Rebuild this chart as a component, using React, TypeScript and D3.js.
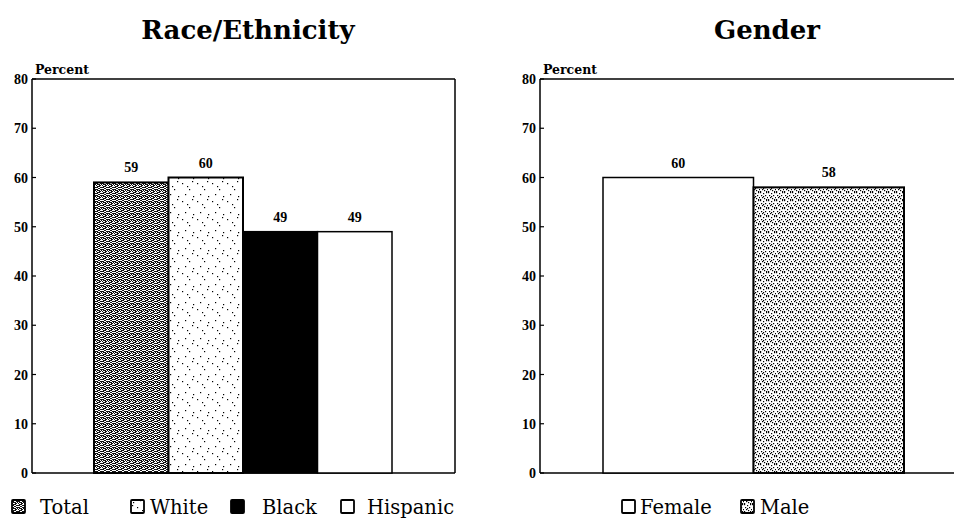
import React from "react";
import * as d3 from "d3";

const raceCategories = ["Total", "White", "Black", "Hispanic"];
const raceValues = [59, 60, 49, 49];
const genderCategories = ["Female", "Male"];
const genderValues = [60, 58];
const yTicks = [0, 10, 20, 30, 40, 50, 60, 70, 80];
const titles = ["Race/Ethnicity", "Gender"];
const axisLabel = "Percent";

const raceFills = ["url(#patTotal)", "url(#patWhite)", "#000", "#fff"];
const raceStrokes = [2, 2, 1.5, 1.5];
const genderFills = ["#fff", "url(#patMale)"];
const genderStrokes = [1.5, 2];

const W = 954;
const H = 525;
const serif = "'Liberation Serif', 'Times New Roman', serif";
const wide = "'DejaVu Serif', serif";

function Panel({
  cats, vals, fills, strokes, axisX, frameRight, barRange, title, titleX, showRight,
}: any) {
  const y = d3.scaleLinear().domain([0, 80]).range([473, 79]);
  const x = d3.scaleBand().domain(cats).range(barRange).padding(0);
  return (
    <g>
      <text x={titleX} y={39} textAnchor="middle" fontFamily={wide} fontWeight="bold" fontSize={26} fill="#000">
        {title}
      </text>
      <text x={axisX + 3} y={74} fontFamily={wide} fontWeight="bold" fontSize={12.5} fill="#000">
        {axisLabel}
      </text>
      <line x1={axisX} x2={axisX} y1={y(80)} y2={y(0)} stroke="#000" strokeWidth={1.5} />
      <line x1={axisX} x2={frameRight} y1={y(80)} y2={y(80)} stroke="#000" strokeWidth={1.5} />
      <line x1={axisX} x2={frameRight} y1={y(0)} y2={y(0)} stroke="#000" strokeWidth={1.5} />
      {showRight && (
        <line x1={frameRight} x2={frameRight} y1={y(80)} y2={y(0)} stroke="#000" strokeWidth={1.5} />
      )}
      {yTicks.map((t) => (
        <g key={t}>
          <line x1={axisX} x2={axisX + 4} y1={y(t)} y2={y(t)} stroke="#000" strokeWidth={1.2} />
          <text x={axisX - 4} y={y(t) + 5} textAnchor="end" fontFamily={serif} fontWeight="bold" fontSize={14} fill="#000">
            {t}
          </text>
        </g>
      ))}
      {cats.map((c: string, i: number) => (
        <g key={c}>
          <rect
            x={x(c)}
            y={y(vals[i])}
            width={x.bandwidth()}
            height={y(0) - y(vals[i])}
            fill={fills[i]}
            stroke="#000"
            strokeWidth={strokes[i]}
          />
          <text
            x={(x(c) as number) + x.bandwidth() / 2}
            y={y(vals[i]) - 10}
            textAnchor="middle"
            fontFamily={serif}
            fontWeight="bold"
            fontSize={14}
            fill="#000"
          >
            {vals[i]}
          </text>
        </g>
      ))}
    </g>
  );
}

function Legend({ items, swatchX, textX, fills }: any) {
  return (
    <g>
      {items.map((it: string, i: number) => (
        <g key={it}>
          <rect x={swatchX[i]} y={500} width={13} height={13} fill={fills[i]} stroke="#000" strokeWidth={1.8} rx={1} />
          <text x={textX[i]} y={514} fontFamily={wide} fontSize={19.5} fill="#000">
            {it}
          </text>
        </g>
      ))}
    </g>
  );
}

export default function App() {
  const whiteDots = [
    [2, 3], [9, 9], [5, 14], [12, 1], [13, 16], [7, 6],
  ];
  const maleDots = [
    [0, 0], [3, 1], [6, 0], [1, 3], [5, 3], [2, 5], [7, 5], [4, 6], [0, 7], [6, 7], [3, 4],
  ];
  const totalLight = [
    [0, 0], [2, 1], [4, 0], [1, 2], [3, 3], [5, 2], [0, 4], [2, 5], [4, 4], [5, 5], [1, 5], [3, 1],
    [5, 0], [0, 2], [2, 3], [4, 2],
  ];
  return (
    <svg width={W} height={H} style={{ position: "absolute", left: 0, top: 0, display: "block", background: "#fff" }}>
      <defs>
        <pattern id="patTotal" width={6} height={6} patternUnits="userSpaceOnUse">
          <rect width={6} height={6} fill="#111" />
          {totalLight.map(([a, b], i) => (
            <rect key={i} x={a} y={b} width={1} height={1} fill="#fff" />
          ))}
        </pattern>
        <pattern id="patWhite" width={15} height={18} patternUnits="userSpaceOnUse">
          <rect width={15} height={18} fill="#fff" />
          {whiteDots.map(([a, b], i) => (
            <rect key={i} x={a} y={b} width={1.2} height={1.2} fill="#000" />
          ))}
        </pattern>
        <pattern id="patMale" width={8} height={8} patternUnits="userSpaceOnUse">
          <rect width={8} height={8} fill="#fff" />
          {maleDots.map(([a, b], i) => (
            <rect key={i} x={a} y={b} width={1.2} height={1.2} fill="#000" />
          ))}
        </pattern>
      </defs>
      <rect width={W} height={H} fill="#fff" />
      <Panel
        cats={raceCategories}
        vals={raceValues}
        fills={raceFills}
        strokes={raceStrokes}
        axisX={32}
        frameRight={455}
        barRange={[94, 392]}
        title={titles[0]}
        titleX={248}
        showRight={true}
      />
      <Panel
        cats={genderCategories}
        vals={genderValues}
        fills={genderFills}
        strokes={genderStrokes}
        axisX={540}
        frameRight={960}
        barRange={[603, 904]}
        title={titles[1]}
        titleX={767}
        showRight={false}
      />
      <Legend
        items={raceCategories}
        swatchX={[12, 131, 231, 341]}
        textX={[40, 150, 262, 367]}
        fills={raceFills}
      />
      <Legend
        items={genderCategories}
        swatchX={[622, 741]}
        textX={[640, 760]}
        fills={genderFills}
      />
    </svg>
  );
}
